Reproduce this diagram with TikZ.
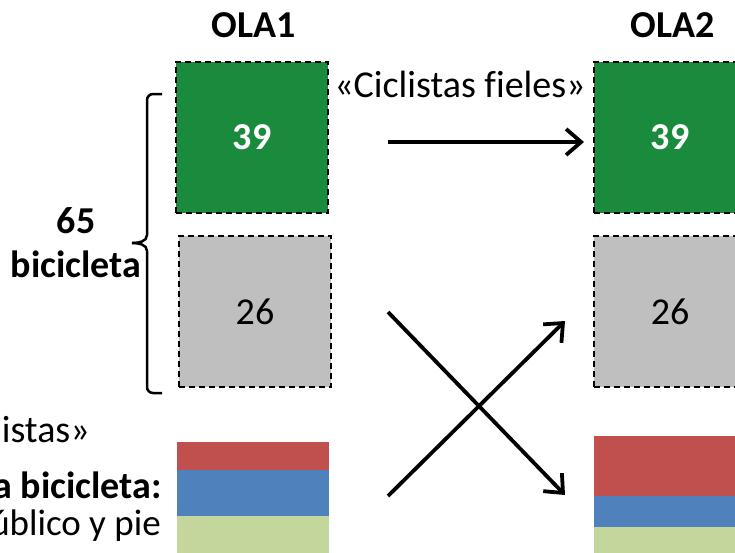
\documentclass[tikz,border=0pt]{standalone}
\usepackage{fontspec}
\setmainfont{Carlito}[Ligatures=NoCommon]
\usetikzlibrary{arrows.meta}
\definecolor{olagreen}{RGB}{26,138,61}
\definecolor{olagray}{RGB}{191,191,191}
\definecolor{olared}{RGB}{192,80,77}
\definecolor{olablue}{RGB}{79,129,189}
\definecolor{olalight}{RGB}{195,214,155}
\tikzset{
  big/.style={font=\fontsize{38}{45}\selectfont},
  bigb/.style={font=\fontsize{38}{45}\selectfont\bfseries},
  side/.style={font=\fontsize{37}{44}\selectfont},
  dbox/.style={draw=black, line width=1.5pt, dash pattern=on 6pt off 4pt,
    minimum width=152pt, minimum height=151pt, inner sep=0pt},
  greenbox/.style={dbox, fill=olagreen, text=white, bigb},
  graybox/.style={dbox, fill=olagray, text=black, big},
  band/.style={draw=none, minimum width=152pt, inner sep=0pt, outer sep=0pt},
  flow/.style={line width=3.8pt, -{Straight Barb[length=15pt,width=26pt,line width=3.8pt]}},
  bracepath/.style={line width=2.5pt}
}
\begin{document}
\begin{tikzpicture}[x=1pt,y=-1pt]
\useasboundingbox (0,0) rectangle (735,552);
\clip (0,0) rectangle (735,552);
% headers
\node[bigb, anchor=base] (h1) at (254,37) {OLA1};
\node[bigb, anchor=base] (h2) at (673,37) {OLA2};
% OLA1 boxes
\node[greenbox] (g1) at (252,137.5) {39};
\node[graybox] (s1) at (255,311.5) {26};
% OLA2 boxes
\node[greenbox] (g2) at (670,137.5) {39};
\node[graybox] (s2) at (670,311.5) {26};
% OLA1 stack
\node[band, fill=olared, minimum height=28pt] (r1) at (253,456) {};
\node[band, fill=olablue, minimum height=46pt] (b1) at (253,493) {};
\node[band, fill=olalight, minimum height=44pt] (l1) at (253,538) {};
% OLA2 stack
\node[band, fill=olared, minimum height=60pt] (r2) at (670,466) {};
\node[band, fill=olablue, minimum height=31pt] (b2) at (670,511.5) {};
\node[band, fill=olalight, minimum height=33pt] (l2) at (670,543.5) {};
% label fieles
\node[big, anchor=base] (fieles) at (460,97) {«Ciclistas fieles»};
% arrows
\coordinate (a1s) at (388,142);
\coordinate (a1e) at (584,142);
\coordinate (a2s) at (388,312);
\coordinate (a2e) at (565,495);
\coordinate (a3s) at (388,496);
\coordinate (a3e) at (565,321);
\draw[flow] (a1s) -- (a1e);
\draw[flow] (a2s) -- (a2e);
\draw[flow] (a3s) -- (a3e);
% brace
\coordinate (bt) at (162,94);
\coordinate (bm) at (132,243);
\coordinate (bb) at (162,393);
\draw[bracepath] (bt) -- (153,94) to[out=180,in=90] (147,100) -- (147,235)
  to[out=270,in=0] (bm);
\draw[bracepath] (bm) to[out=0,in=90] (147,251) -- (147,387)
  to[out=270,in=180] (153,393) -- (bb);
\node[bigb, anchor=base] (n65) at (76,233) {65};
\node[bigb, anchor=base] (nbic) at (76,277) {bicicleta};
% left texts (cut at the picture's edge)
\node[big, anchor=base east, inner sep=0pt] (t1) at (90,442) {istas»};
\node[bigb, anchor=base east, inner sep=0pt] (t2) at (162,498) {a bicicleta:};
\node[side, anchor=base east, inner sep=0pt] (t3) at (161,535) {úblico y pie};
\end{tikzpicture}
\end{document}
